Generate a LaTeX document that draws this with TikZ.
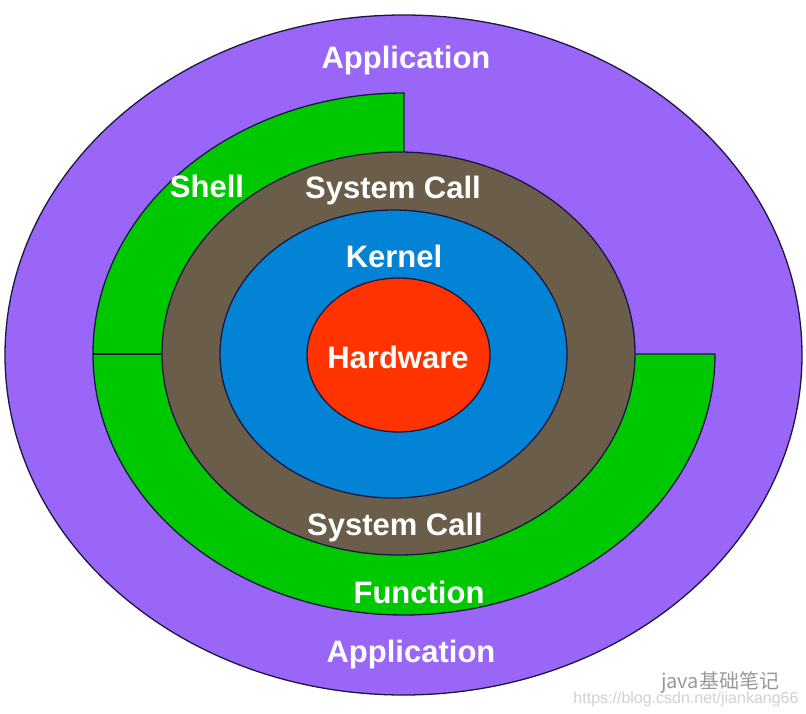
\documentclass[tikz,border=0pt]{standalone}
\usepackage{fontspec}
\setmainfont{Liberation Sans}
\newfontfamily\cjkfont{Noto Sans CJK SC}
\usepackage[usenames,dvipsnames]{xcolor}
\usetikzlibrary{backgrounds}

\definecolor{appviolet}{HTML}{9966F8}
\definecolor{shellgreen}{HTML}{00C800}
\definecolor{callgray}{HTML}{6A5D4A}
\definecolor{kernelblue}{HTML}{0383D6}
\definecolor{hwred}{HTML}{FF3300}
\definecolor{rim}{HTML}{1A1840}

\tikzset{
  ring/.style={draw=rim, line width=1.3pt},
  tag/.style={text=white, font=\fontsize{31}{36}\selectfont\bfseries, inner sep=0pt, anchor=base},
  stamp/.style={inner sep=0pt, anchor=base},
}

\begin{document}
\begin{tikzpicture}[x=1pt,y=-1pt]
  \useasboundingbox[fill=white] (0,0) rectangle (806,714);

  % layers, outside in
  \path[ring, fill=appviolet] (403.5,355) ellipse [x radius=398.5pt, y radius=340pt];
  \coordinate (mid) at (404,354);
  \path[ring, fill=shellgreen] (mid) -- (404,93)
      arc [start angle=90, end angle=360, x radius=311pt, y radius=261pt] -- cycle;
  \path[ring, fill=callgray] (398.5,353.5) ellipse [x radius=236.5pt, y radius=201.5pt];
  \path[ring, fill=kernelblue] (393.5,354) ellipse [x radius=173.5pt, y radius=144pt];
  \path[ring, fill=hwred] (398.5,355) ellipse [x radius=91.5pt, y radius=77pt];

  \coordinate (shell-out) at (93,354);
  \coordinate (shell-in) at (162,354);
  \draw[ring] (shell-out) -- (shell-in);

  \draw (406,69) node[tag] (app-top) {Application};
  \draw (207,198) node[tag] (shell) {Shell};
  \draw (393,199) node[tag] (call-top) {System Call};
  \draw (394,268) node[tag] (kernel) {Kernel};
  \draw (398,368) node[tag] (hardware) {Hardware};
  \draw (395,535) node[tag] (call-bottom) {System Call};
  \draw (419,603) node[tag] (function) {Function};
  \draw (411,662) node[tag] (app-bottom) {Application};

  \draw (720,688) node[stamp, text=black!40, font=\cjkfont\fontsize{20}{24}\selectfont] (wm-name) {java基础笔记};
  \draw (686,703) node[stamp, text=black!18, font=\fontsize{16}{18}\selectfont] (wm-url) {https://blog.csdn.net/jiankang66};
\end{tikzpicture}
\end{document}
